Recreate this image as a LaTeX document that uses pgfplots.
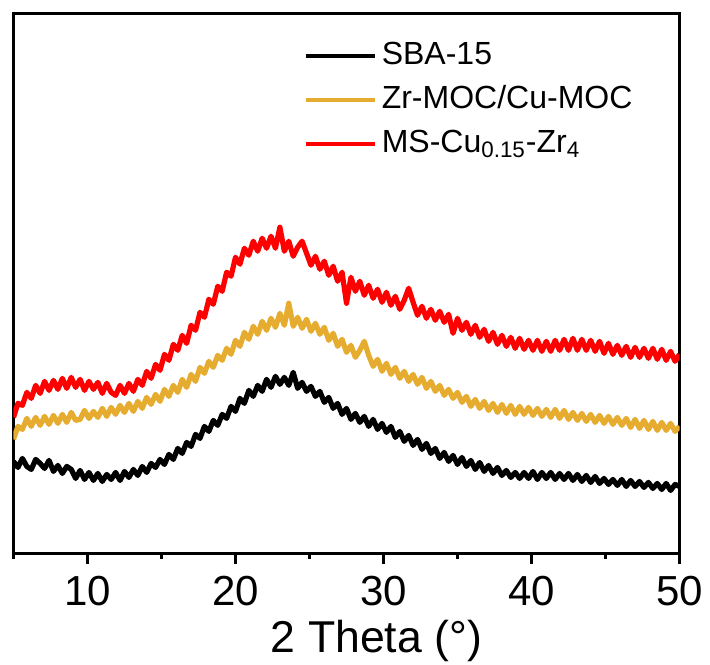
\documentclass[border=0pt]{standalone}
\usepackage{fontspec}
\setmainfont{Liberation Sans}
\usepackage{pgfplots}
\usepackage{pgfplotstable}
\pgfplotsset{compat=1.18}
\definecolor{myorange}{RGB}{230,172,48}
\definecolor{myred}{RGB}{255,0,0}
\pgfplotstableread{
x b o r
5.0 92 114 136
5.3 86 127 150
5.6 95 124 148
5.9 87 135 161
6.2 84 127 155
6.5 94 136 168
6.8 90 128 160
7.1 85 137 172
7.4 93 129 163
7.7 82 138 173
8.0 88 130 164
8.3 80 139 175
8.6 87 131 165
8.9 84 141 176
9.2 75 133 166
9.5 83 134 174
9.8 74 143 163
10.1 81 135 172
10.4 73 142 164
10.7 80 136 171
11.0 72 145 160
11.3 79 137 170
11.6 74 146 161
11.9 81 139 158
12.2 73 148 168
12.5 82 141 160
12.8 76 150 170
13.1 84 142 162
13.4 78 152 174
13.7 87 145 168
14.0 81 156 182
14.3 90 149 175
14.6 86 159 189
14.9 94 152 183
15.2 89 164 199
15.5 99 157 193
15.8 94 168 209
16.1 105 161 203
16.4 100 174 218
16.7 111 166 210
17.0 107 179 228
17.3 119 172 223
17.6 115 186 241
17.9 127 180 236
18.2 122 192 254
18.5 133 186 249
18.8 128 198 267
19.1 139 193 262
19.4 135 205 281
19.7 147 199 277
20.0 142 213 296
20.3 155 207 289
20.6 150 221 305
20.9 163 214 298
21.2 157 227 312
21.5 168 219 302
21.8 162 232 315
22.1 174 223 305
22.4 166 235 317
22.7 177 226 305
23.0 169 240 326
23.3 176 228 302
23.6 168 250 312
23.9 181 227 297
24.2 165 236 306
24.5 171 225 312
24.8 162 234 300
25.1 167 222 288
25.4 157 230 297
25.7 162 219 284
26.0 151 226 292
26.3 156 213 278
26.6 145 220 287
26.9 150 207 272
27.2 139 214 281
27.5 145 201 250
27.8 134 208 276
28.1 140 196 262
28.4 131 203 272
28.7 137 212 258
29.0 127 198 268
29.3 134 187 255
29.6 124 194 264
29.9 130 182 251
30.2 121 190 261
30.5 127 179 248
30.8 116 186 257
31.1 122 175 244
31.4 112 182 253
31.7 118 172 265
32.0 108 179 251
32.3 114 169 238
32.6 104 176 247
32.9 110 165 235
33.2 100 172 244
33.5 105 162 233
33.8 95 168 242
34.1 101 158 231
34.4 92 164 239
34.7 98 155 220
35.0 89 161 235
35.3 96 151 223
35.6 87 157 231
35.9 93 147 219
36.2 84 154 228
36.5 91 145 216
36.8 82 152 224
37.1 88 143 212
37.4 80 150 221
37.7 86 141 209
38.0 78 149 218
38.3 83 140 207
38.6 76 148 216
38.9 81 139 205
39.2 75 147 215
39.5 81 139 204
39.8 75 146 213
40.1 82 138 203
40.4 74 145 213
40.7 81 137 202
41.0 75 144 212
41.3 81 136 202
41.6 74 144 213
41.9 80 135 203
42.2 74 143 214
42.5 80 134 203
42.8 73 141 215
43.1 79 133 203
43.4 72 140 214
43.7 78 132 203
44.0 71 139 213
44.3 77 131 202
44.6 70 138 212
44.9 75 130 200
45.2 69 137 210
45.5 74 129 199
45.8 68 136 208
46.1 74 128 198
46.4 67 135 207
46.7 73 126 196
47.0 67 134 206
47.3 72 125 196
47.6 66 133 205
47.9 71 124 195
48.2 65 132 205
48.5 70 123 194
48.8 64 131 204
49.1 70 123 193
49.4 63 130 202
49.7 69 122 192
50.0 67 127 199
}\data
\begin{document}
\begin{tikzpicture}
\begin{axis}[
  at={(0,0)}, anchor=south west,
  scale only axis,
  width=333pt, height=270pt,
  xmin=5, xmax=50, ymin=0, ymax=539.5,
  axis line style={line width=1.8pt},
  xtick={10,20,30,40,50},
  minor xtick={5,15,25,35,45},
  ytick=\empty,
  xtick pos=bottom,
  tick align=outside,
  major tick length=5pt,
  minor tick length=2.5pt,
  tick style={line width=1.5pt, black},
  /pgf/number format/assume math mode=true,
  xticklabel style={font=\fontsize{21}{25}\selectfont, anchor=base, yshift=-21pt},
  xlabel={2 Theta (°)},
  xlabel style={font=\fontsize{22.3}{26}\selectfont, at={(axis description cs:0.545,0)}, anchor=base, yshift=-49.5pt},
  legend cell align=left,
  legend style={draw=none, fill=none, at={(0.436,0.962)}, anchor=north west, inner sep=0pt,
    font=\fontsize{16}{19}\selectfont,
    nodes={text height=12pt, text depth=4pt, inner sep=0pt, inner xsep=2.25pt, inner ysep=3pt}},
  legend image code/.code={\draw[#1, line width=2pt] (0pt,0pt) -- (34.5pt,0pt);},
]
\addplot[black, line width=2.6pt, line join=round] table[x=x, y=b] {\data};
\addlegendentry{SBA-15}
\addplot[myorange, line width=2.6pt, line join=round] table[x=x, y=o] {\data};
\addlegendentry{Zr-MOC/Cu-MOC}
\addplot[myred, line width=2.6pt, line join=round] table[x=x, y=r] {\data};
\addlegendentry{MS-Cu\textsubscript{0.15}-Zr\textsubscript{4}}
\end{axis}
\pgfresetboundingbox
\path[use as bounding box] (-6.75pt,-55.5pt) rectangle (348.25pt,276.75pt);
\end{tikzpicture}
\end{document}
